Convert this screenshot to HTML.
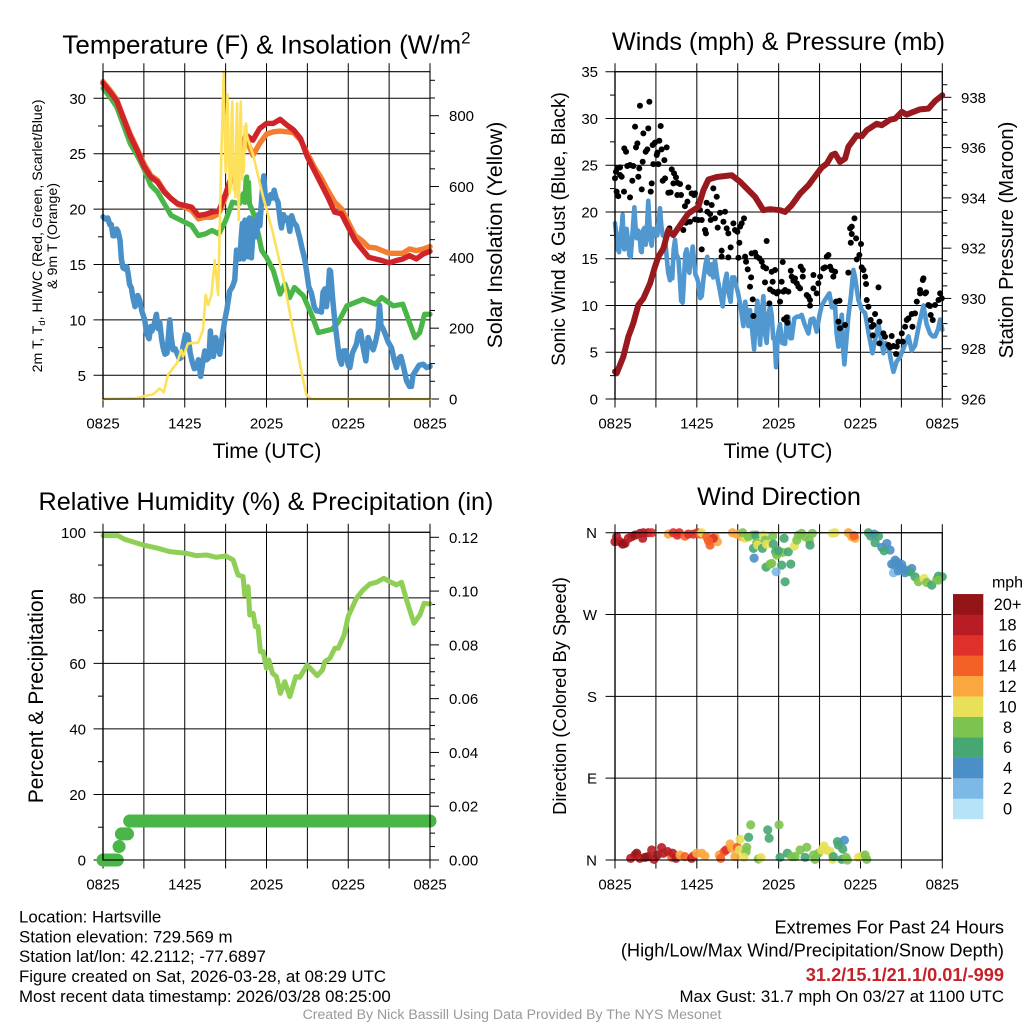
<!DOCTYPE html>
<html lang="en">
<head>
<meta charset="utf-8">
<title>Hartsville Mesonet Meteogram</title>
<style>
html,body{margin:0;padding:0;background:#fff;width:1024px;height:1024px;overflow:hidden}
svg{display:block}
text{font-family:"Liberation Sans",sans-serif;fill:#000}
</style>
</head>
<body>
<svg id="chart" xmlns="http://www.w3.org/2000/svg" width="1024" height="1024" viewBox="0 0 1024 1024">
<rect width="1024" height="1024" fill="#fff"/>
<text x="266.5" y="53.5" font-size="26" text-anchor="middle">Temperature (F) &amp; Insolation (W/m<tspan font-size="17" dy="-10">2</tspan></text>
<text x="778.5" y="50" font-size="25.2" text-anchor="middle">Winds (mph) &amp; Pressure (mb)</text>
<text x="266" y="510" font-size="25.2" text-anchor="middle">Relative Humidity (%) &amp; Precipitation (in)</text>
<text x="779" y="505" font-size="25.2" text-anchor="middle">Wind Direction</text>
<text x="267" y="458" font-size="21" text-anchor="middle">Time (UTC)</text>
<text x="778" y="458" font-size="21" text-anchor="middle">Time (UTC)</text>
<text transform="translate(42 236) rotate(-90)" font-size="14.2" text-anchor="middle">2m T, T<tspan font-size="9.5" dy="3">d</tspan><tspan dy="-3">, HI/WC (Red, Green, Scarlet/Blue)</tspan></text>
<text transform="translate(57 236) rotate(-90)" font-size="14.2" text-anchor="middle">&amp; 9m T (Orange)</text>
<text transform="translate(502 235) rotate(-90)" font-size="21.2" text-anchor="middle">Solar Insolation (Yellow)</text>
<text transform="translate(565 229) rotate(-90)" font-size="19.1" text-anchor="middle">Sonic Wind &amp; Gust (Blue, Black)</text>
<text transform="translate(1013 240) rotate(-90)" font-size="20.2" text-anchor="middle">Station Pressure (Maroon)</text>
<text transform="translate(43 696) rotate(-90)" font-size="21.1" text-anchor="middle">Percent &amp; Precipitation</text>
<text transform="translate(566 696) rotate(-90)" font-size="18.3" text-anchor="middle">Direction (Colored By Speed)</text>
<g id="plots"></g>
<g id="legend">
<text x="1007.5" y="587.5" font-size="16" text-anchor="middle">mph</text>
</g>
<g font-size="16.85">
<text x="19" y="922.5">Location: Hartsville</text>
<text x="19" y="942.5">Station elevation: 729.569 m</text>
<text x="19" y="962">Station lat/lon: 42.2112; -77.6897</text>
<text x="19" y="982">Figure created on Sat, 2026-03-28, at 08:29 UTC</text>
<text x="19" y="1002">Most recent data timestamp: 2026/03/28 08:25:00</text>
</g>
<g text-anchor="end">
<text x="1004" y="933.5" font-size="18.2">Extremes For Past 24 Hours</text>
<text x="1004" y="956.5" font-size="18.2">(High/Low/Max Wind/Precipitation/Snow Depth)</text>
<text x="1004" y="981" font-size="18.2" font-weight="bold" style="fill:#c4222b">31.2/15.1/21.1/0.01/-999</text>
<text x="1004" y="1002" font-size="16.85">Max Gust: 31.7 mph On 03/27 at 1100 UTC</text>
</g>
<text x="512" y="1019" font-size="14.1" text-anchor="middle" style="fill:#999">Created By Nick Bassill Using Data Provided By The NYS Mesonet</text>
</svg>
<script>
/* ---------- shared tick data ---------- */
const timeTickHours = [0, 6, 12, 18, 24];
const timeTickLabels = ['0825', '1425', '2025', '0225', '0825'];
const gridHours = [0, 3, 6, 9, 12, 15, 18, 21, 24];

const tempTicks = [5, 10, 15, 20, 25, 30];
const tempMinor = [7.5, 12.5, 17.5, 22.5, 27.5];
const solarTicks = [0, 200, 400, 600, 800];
const solarMinor = [50, 100, 150, 250, 300, 350, 450, 500, 550, 650, 700, 750, 850, 900];
const windTicks = [0, 5, 10, 15, 20, 25, 30, 35];
const windMinor = [2.5, 7.5, 12.5, 17.5, 22.5, 27.5, 32.5];
const pressureTicks = [926, 928, 930, 932, 934, 936, 938];
const pressureMinor = [926.5, 927, 927.5, 928.5, 929, 929.5, 930.5, 931, 931.5, 932.5, 933, 933.5, 934.5, 935, 935.5, 936.5, 937, 937.5, 938.5];
const rhTicks = [0, 20, 40, 60, 80, 100];
const rhMinor = [10, 30, 50, 70, 90];
const precipTicks = [0, 0.02, 0.04, 0.06, 0.08, 0.10, 0.12];
const precipTickLabels = ['0.00', '0.02', '0.04', '0.06', '0.08', '0.10', '0.12'];
const precipMinor = [0.005, 0.01, 0.015, 0.025, 0.03, 0.035, 0.045, 0.05, 0.055, 0.065, 0.07, 0.075, 0.085, 0.09, 0.095, 0.105, 0.11, 0.115];
const dirTicks = [0, 90, 180, 270, 360];
const dirTickLabels = ['N', 'E', 'S', 'W', 'N'];
const dirRightTicks = [90, 180, 270];

/* ---------- temperature panel ---------- */
const halfHours = [0,.5,1,1.5,2,2.5,3,3.5,4,4.5,5,5.5,6,6.5,7,7.5,8,8.5,9,9.5,10,10.5,11,11.5,12,12.5,13,13.5,14,14.5,15,15.5,16,16.5,17,17.5,18,18.5,19,19.5,20,20.5,21,21.5,22,22.5,23,23.5,24];
const airTemp = [31.36,30.6,29.79,28.19,26.59,25.32,23.87,22.9,22.45,21.54,20.94,20.48,20.33,20.18,19.43,19.52,19.73,19.82,21.39,23.2,24.71,26.68,26.22,27.28,27.73,27.73,28.1,27.58,27.13,26.37,24.71,23.5,22.3,21.09,19.73,19.58,18.37,17.16,16.4,15.65,15.5,15.35,15.14,15.35,15.5,15.8,15.5,15.95,16.19];
const temp9m = [31.51,30.76,29.91,28.28,26.77,25.47,24.11,23.05,22.6,21.63,20.94,20.42,20.18,19.88,19.12,19.27,19.27,19.58,21.09,23.2,25.02,26.37,24.86,25.92,26.77,26.98,27.04,26.98,26.89,26.22,25.02,23.81,22.84,21.69,20.63,20.03,18.82,17.61,17.16,16.56,16.5,16.25,16.01,16.01,16.01,16.4,16.25,16.4,16.62];
const dewHours = [0,.5,1,1.5,2,2.5,3,3.5,4,4.5,5,5.5,6,6.5,7,7.5,8,8.5,9,9.5,10,10.3,10.4,10.5,10.55,10.62,10.68,10.75,11.05,11.4,11.65,12,12.5,13,13.35,13.7,14.05,14.7,15.3,15.8,16.8,17.25,17.9,19.1,20,20.45,21.3,22,22.9,23.25,23.6,24];
const dewPoint = [30.91,30.15,29.24,27.58,25.92,24.86,23.66,22.15,21.54,20.48,19.43,19.12,18.82,18.52,17.61,17.76,18.07,17.76,18.97,20.63,20.48,21.39,20.6,22.6,22.9,20.8,22.4,20.48,19.58,17.76,16.25,15.65,14.44,12.33,13.23,12.02,12.93,12.18,10.51,8.85,9.15,9.76,11.27,11.87,11.42,12.02,11.27,11.42,8.4,8.85,10.51,10.51];
const chillHours = [0,.2,.35,.5,.61,.73,.85,1,1.1,1.25,1.35,1.47,1.6,1.75,1.84,1.95,2.08,2.2,2.35,2.45,2.55,2.69,2.85,3.06,3.2,3.38,3.5,3.6,3.75,3.92,4.05,4.16,4.3,4.41,4.55,4.7,4.8,4.9,5,5.14,5.3,5.43,5.6,5.75,5.9,6.05,6.24,6.4,6.55,6.7,6.85,7,7.17,7.3,7.47,7.6,7.78,7.88,8,8.1,8.27,8.4,8.57,8.75,8.94,9.1,9.3,9.5,9.67,9.8,9.9,10.04,10.15,10.23,10.32,10.42,10.55,10.65,10.75,10.89,11,11.14,11.25,11.4,11.51,11.65,11.8,11.95,12.12,12.3,12.45,12.56,12.7,12.85,13,13.1,13.25,13.4,13.55,13.71,13.85,14,14.2,14.44,14.6,14.8,14.93,15.1,15.3,15.5,15.67,15.85,16.03,16.15,16.28,16.4,16.52,16.62,16.7,16.85,17.01,17.2,17.35,17.5,17.65,17.82,18,18.12,18.3,18.6,18.75,18.9,19.1,19.29,19.46,19.65,19.83,20,20.2,20.3,20.4,20.56,20.75,20.93,21.17,21.35,21.54,21.7,21.86,22.05,22.28,22.5,22.64,22.75,22.89,23.2,23.5,23.75,24];
const windChill = [19.3,19.1,19.2,18.6,18.6,17.6,17.6,18.2,18,17.2,15.5,14.7,14.6,14.8,14.2,13.2,12.9,12,11.2,11.5,12.2,11.8,10.8,10,8.8,8.3,9.4,9,9.6,10.5,9.2,9.8,8.3,7.5,6.9,7,8.5,10,8.5,7.3,7.4,7,6.5,6.6,7.8,8.7,8.6,7,6.2,5.6,5.7,6.4,4.9,6,7.2,6.4,6.6,9,7.5,6.7,8.4,7.8,6.9,8.5,10,11,12.6,13,13.6,16.3,15.5,15.5,17.5,18.7,15.5,19,17,15.7,19.2,15.6,17.8,19,17.5,19.5,18.5,21,23,20.5,20.5,21.3,21,21.7,21,20.6,19,18.3,19.5,19,19.2,18,19.4,18.8,18.5,17.4,16.5,15.5,14.5,13,12.4,11.2,10.8,10.8,10.7,12.5,12.8,11.2,12.5,14.5,14.4,12,9.9,8,6.5,6,7.2,7.2,5.9,5.7,7,7.8,8.8,9,7.5,6.3,8.4,7.8,7.3,8,9.2,11.3,9.5,9.2,8.6,8,7.5,6.5,5.7,6.5,6.7,5.8,4.5,4,4,5,5.3,5.9,6,5.7,5.8];
const solarHours = [0,2.45,3.06,3.67,4.16,4.46,4.77,5.14,5.43,5.75,5.88,6.24,6.98,7.34,7.54,7.71,7.96,8.2,8.45,8.57,8.69,8.86,8.93,9,9.06,9.13,9.2,9.25,9.3,9.38,9.43,9.49,9.55,9.6,9.66,9.72,9.78,9.84,9.9,9.96,10.02,10.07,10.11,10.17,10.23,10.28,10.33,10.4,10.45,10.5,10.58,11.02,11.75,12.48,13.22,13.95,14.69,14.93,15.3,24];
const solarValues = [0,2,8.5,13,30,19,68,87,101,138,120,157,159,195,294,265,294,392,294,487,694,924,760,640,690,860,760,620,580,600,780,840,700,590,640,570,740,835,640,505,640,780,840,700,620,690,640,770,700,778,741,689,571,468,345,195,54,11,0,0];

/* ---------- wind panel ---------- */
const pressureHours = [0,.12,.61,.98,1.34,1.71,2.08,2.57,2.93,3.18,3.55,3.91,4.28,4.77,5.38,6.11,6.48,6.85,7.46,8.56,9.17,10.27,10.88,11.37,12.1,12.47,12.96,13.57,14.18,14.55,15.16,15.53,15.89,16.14,16.5,16.87,17.11,17.73,18.09,18.46,19.19,19.56,20.17,20.54,21.03,21.39,21.88,22.37,22.98,23.47,24];
const pressureValues = [927.09,927.02,927.68,928.48,929.01,929.74,930,930.6,931.26,931.66,931.99,932.72,932.52,932.91,933.38,933.64,934.3,934.73,934.83,934.9,934.64,934.04,933.51,933.55,933.51,933.44,933.71,934.17,934.5,934.77,935.21,935.36,935.7,935.76,935.43,935.56,936.03,936.49,936.45,936.69,936.95,936.89,937.11,937.15,937.42,937.31,937.42,937.52,937.55,937.85,938.08];
const sonicHours = [0,.1,.2,.3,.4,.5,.56,.62,.68,.75,.85,.95,1.05,1.15,1.25,1.32,1.42,1.5,1.59,1.7,1.8,1.9,1.96,2.05,2.15,2.25,2.35,2.44,2.52,2.6,2.69,2.8,2.9,3,3.1,3.2,3.3,3.4,3.5,3.67,3.8,3.9,4.03,4.12,4.2,4.3,4.4,4.5,4.65,4.75,4.85,4.96,5.05,5.15,5.25,5.35,5.45,5.55,5.7,5.8,5.9,6,6.1,6.25,6.36,6.5,6.65,6.77,6.88,7,7.09,7.2,7.33,7.5,7.7,7.9,8.05,8.19,8.3,8.48,8.6,8.75,8.9,9,9.2,9.41,9.55,9.7,9.78,9.9,10.05,10.2,10.3,10.44,10.55,10.64,10.75,10.88,11,11.12,11.25,11.37,11.49,11.6,11.7,11.81,11.95,12.1,12.25,12.47,12.6,12.71,12.85,12.96,13.15,13.33,13.5,13.69,13.9,14.18,14.35,14.55,14.79,15,15.16,15.4,15.72,15.9,16.14,16.25,16.38,16.5,16.63,16.72,16.82,16.95,17.11,17.3,17.48,17.6,17.85,18.1,18.34,18.6,18.88,19.1,19.32,19.5,19.68,19.85,20.05,20.25,20.42,20.65,20.9,21.2,21.52,21.75,22,22.3,22.62,22.85,23.1,23.3,23.47,23.7,23.84,24];
const sonicValues = [18.8,17.5,16,15.7,17.5,18.5,19.7,17,16,17.8,18.2,17,15.4,15.2,17,18.5,20.5,18.5,17.2,18,17.5,15.8,15.7,18,18.3,16.5,18.5,21.2,19,17,16.4,18.2,17.5,18,17.5,19,20.4,18.5,17.5,17.3,15,13.5,12.7,14,12.9,16,17,15.5,15,13,10.5,10.3,12.5,15.5,16,14.2,13.5,15,16.3,14.8,13.3,13,12.5,10.8,11,13,14.5,15.2,13.5,13.3,14.4,13,14.8,13,11.5,9.9,12.5,13.4,11.5,10.4,13,13,12,11.5,10,7.8,10.4,8.8,7.8,9.5,7.5,5.3,8,10.5,8,5.8,9,11,7,6,9,10,9,6.5,6.5,3.4,7,8,6,5.9,8.5,8.8,6.5,6.5,8.6,8.8,8.8,9,8,7,8.5,8.6,7.2,9,10,10.6,11.3,9.8,9.9,7,5.6,7.5,9,5.5,3.7,6,8.8,11,13.8,13,10.6,9.5,9.2,7,4.9,6.5,8,6.5,4.9,6,5.6,4,2.9,4,4.5,5.6,6.7,5.2,5.7,8,10,8,7,6.7,6.7,7.5,8.5,7.4];
const gustHours = [0,.07,.17,.37,.49,.37,.12,.24,.66,.68,.81,.9,1.1,1.1,1.27,1.34,1.47,1.54,1.64,1.71,1.83,1.78,1.96,2.03,2.08,2.25,2.37,2.44,2.52,2.62,2.69,2.76,2.93,2.81,3.06,3.18,3.11,3.25,3.35,3.42,3.62,3.79,3.67,3.5,3.91,4.08,4.16,4.33,4.47,4.28,4.57,4.77,4.84,4.57,5.31,5.13,5.38,5.62,5.87,5.79,6.11,6.23,5.87,6.11,6.72,7.09,6.77,6.97,7.21,7.46,7.33,7.02,7.7,8.07,7.95,7.53,8.19,8.31,8.48,8.68,8.8,8.97,9.17,9.29,9.46,9.12,7.82,7.82,8.31,9.05,6.36,6.36,6.6,6.67,5.01,5.21,5.5,3.99,4.03,9.54,9.61,9.73,9.98,9.9,10.1,10.02,10.27,10.39,10.59,10.76,10.88,11.08,11,11.12,11.49,11.74,11.56,11.37,11.61,11.86,12.3,12.22,12.1,11.98,12.35,12.47,12.71,12.89,12.96,13.08,13.2,13.33,13.45,13.57,13.62,13.77,13.77,14.06,14.18,14.3,14.55,14.55,14.79,14.3,14.91,15.04,15.28,15.4,15.53,15.65,15.77,15.89,16.14,16.01,16.21,16.46,16.38,16.5,16.87,17.11,17.24,17.36,17.56,17.36,17.68,17.29,18.04,17.92,17.73,18.09,18.22,18.34,18.41,19.32,18.46,18.58,19.07,18.75,18.95,19.39,18.83,18.9,19.39,19.68,19.8,20.05,20.17,20.42,20.29,20.61,20.78,21.03,21.27,21.52,21.76,22,21.81,22.13,22.37,22.62,22.57,22.81,22.98,23.15,23.3,23.1,23.47,23.84,23.72,23.96,21.1,20.66,21.39,22.37,22.74,12.59,12.64,10.15,11.32,12.4];
const gustValues = [23.6,24.3,24.66,24.77,23.77,23.95,22.17,21.7,22.17,26.8,26.44,24.91,21.56,25.02,23.34,24.91,29.12,26.91,27.33,23.77,31.36,24.66,22.42,25.37,28.4,26.44,26.69,28.94,31.79,22.17,23.06,27.16,27.41,25.12,26.09,25.12,26.34,27.62,29.19,26.69,25.55,26.91,23.59,23.34,22.06,22.1,24.55,24.13,23.7,23.06,23.13,22.99,21.81,21.81,21.1,20.63,22.63,21.99,21.99,21.81,20.92,20.21,19.21,19.14,20.99,20.74,20.03,19.78,22.52,21.63,19.32,19.14,19.92,20.03,18.96,18.32,18.25,17.71,16.22,18.78,18.07,17.89,18.43,18.78,19.32,16.71,15.86,15.22,15.15,15.11,16,19.14,18.07,17.71,18.07,18.85,18.96,18.25,17.71,15.22,14.68,13.86,13.01,12.01,10.66,15.57,15.65,15.22,15.04,14.68,14.15,13.97,12.47,16.89,13.61,13.79,12.54,11.72,11.48,11.3,14.65,12.54,10.41,11.48,11.48,11.65,11.48,13.72,13.08,12.65,12.9,12.37,12.01,11.83,14.15,13.79,13.08,11.12,10.94,10.58,13.26,11.83,11.3,9.98,12.37,13.08,13.97,14.08,15.22,15.4,14.15,13.79,13.61,13.08,10.41,10.51,8.27,7.56,7.91,13.51,18.25,18.43,19.32,17.64,17.18,16.71,16.57,15.4,14.93,14.08,13.79,13.08,12.3,11.94,10.58,9.87,9.09,8.45,7.91,8.27,7.73,6.81,5.95,7.02,6.66,5.77,5.52,5.67,6.74,4.81,6.13,7.02,7.73,8.62,9.09,9.16,7.73,10.41,11.65,12.9,12.72,11.4,10.05,8.98,8.45,9.94,10.05,11.3,10.58,10.76,6.13,5.6,8.45,11.3,11.3,8.73,8.16,8.87,10.23,8.52];

/* ---------- humidity panel ---------- */
const rhHours = [0,1.1,1.59,2.94,4.04,4.9,6.12,6.85,7.59,8.32,9.01,9.55,9.91,10.28,10.4,10.65,10.77,11.02,11.19,11.38,11.55,11.75,12,12.17,12.44,12.73,13.02,13.34,13.71,14.15,14.44,14.98,15.72,16.11,16.28,16.65,17.01,17.26,17.7,17.99,18.6,19.09,19.58,20.07,20.61,21.05,21.54,21.91,22.28,22.82,23.26,23.57,24];
const rhValues = [98.98,98.98,97.86,96.13,95.12,94.1,93.59,92.88,93.08,92.37,92.78,91.56,86.98,86.47,80.87,83.42,74.77,75.28,71.21,71.21,63.58,63.58,58.49,61.04,56.97,55.95,50.86,54.43,49.85,55.95,55.75,59.51,56.26,57.99,60.53,61.55,64.6,64.6,68.67,74.26,79.86,82.4,84.23,84.74,85.96,84.94,83.93,84.74,79.35,72.23,74.77,78.33,78.13];
const precipStart = [0, 1.18, 1.35, 1.96];
const precipEnd = [1.05, 1.18, 1.8, 24];
const precipValues = [0, 0.005, 0.0097, 0.0145];

/* ---------- direction panel ---------- */
const dirHours = [0,.12,.37,.56,.73,.98,1.22,1.47,1.83,2.03,2.08,2.44,2.69,3.91,4.28,4.57,4.72,5.13,5.38,5.75,6.04,6.23,6.36,6.72,6.97,7.33,7.51,7.21,6.85,8.61,8.92,9.29,9.54,9.36,9.78,10.1,10.34,10.39,10.15,10.46,10.81,10.88,11,11.12,11.56,11.61,11.78,11.86,12.3,12.71,12.4,11.98,10.2,11.08,11.37,11.49,12.22,12.89,11.81,12.47,13.15,13.33,13.45,13.69,13.94,14.25,14.47,14.3,15.94,16.14,17.11,17.36,17.6,17.53,18.58,18.75,19,19.32,19.07,19.56,19.93,20.17,19.73,20.54,20.29,20.42,20.78,21.03,21.27,21.76,21.64,20.45,20.66,20.78,21.03,21.5,21.27,22,22.25,22.67,22.86,23.23,23.59,23.72,24,23.72,1.15,1.47,1.59,1.83,2.2,2.44,2.69,2.86,3.11,3.42,3.55,3.86,4.16,4.23,4.47,4.77,5.13,5.62,5.75,5.99,6.36,6.6,7.65,7.75,8,8.14,8.44,8.56,8.8,8.97,9.17,9.12,9.66,9.61,9.8,9.95,9.46,10.51,10.71,11.2,11.3,12.03,12.1,12.64,12.96,13.2,13.57,14.06,13.94,14.55,14.67,14.91,15.16,15.33,15.53,15.77,15.97,16.01,16.31,16.38,16.7,16.82,16.63,16.94,17.04,17.85,18.09,18.34,18.46];
const dirValues = [350.1,355.6,350.1,347.5,348.2,353.8,355.6,357.4,359.3,353.8,360,360,360,358.5,360,357.4,360,356.3,358.5,358.5,360,358.5,360,355.6,346.4,355.6,350.1,353.8,351.2,360,358.5,355.6,353.8,360,355.6,357.4,357.4,349,342.8,346.4,342.8,357.4,351.9,347.1,356.3,347.5,339,335.4,338.3,339,353.8,340.1,332,322.1,325.4,326.2,324.3,325.4,317,306,345.3,351.9,357.4,359.3,355.6,351.9,359.3,346.4,359.3,360,360,355.6,353.8,356.7,360,356.3,358.5,356.3,349,343.8,348.2,340.9,340.1,329.9,325.4,315.9,324.3,320.7,315.9,320.7,317,325,328,318,325,318,319,311.5,306,309.6,305.2,302.3,308.5,312.2,311.5,307.8,1.8,5.5,7.4,1.8,2.9,3.7,11,.7,5.5,13.6,7.4,9.2,2.9,7.4,1.8,5.5,3.7,1.8,4.4,7.4,7.4,4.4,5.5,1.8,9.2,11,17.6,12.9,3.7,14,22.8,11,14,9.2,25,38.6,2.9,1.1,2.6,33.1,23.9,38.6,2.9,7.4,3.7,3.7,11,14,2.9,5.5,.7,7.4,11,15.4,11,9.2,.7,3.7,20.2,16.5,12.1,21.7,.7,2.9,0,2.9,4.4,5.5,.7];
const dirSpeeds = [18,18,18,20,20,18,18,20,18,18,18,18,16,12,16,16,16,14,16,16,16,14,10,14,14,12,12,16,14,12,12,12,10,8,8,8,6,8,6,10,6,10,8,10,8,6,6,8,8,6,6,6,4,6,8,8,6,6,2,6,10,8,8,8,8,8,8,6,10,10,12,12,12,14,6,6,4,6,6,4,4,4,6,4,4,2,4,4,4,4,6,4,4,4,4,6,4,6,8,10,8,6,8,6,6,8,18,18,20,18,20,20,18,18,20,18,18,18,14,18,18,12,14,18,16,12,12,12,12,14,14,16,12,12,12,14,10,10,8,8,6,8,10,8,10,6,6,8,6,6,8,8,8,8,6,8,8,8,10,10,10,10,10,6,6,6,6,4,6,8,8,10,10,8,8];

/* ---------- legend ---------- */
const legendLabels = ['0', '2', '4', '6', '8', '10', '12', '14', '16', '18', '20+'];
const speedColors = ['#b7e3f9', '#7cb9e6', '#4a90c7', '#46a772', '#7cc34f', '#e8e158', '#faa73f', '#f46127', '#e0302a', '#b81c24', '#931518'];

const SVGNS = 'http://www.w3.org/2000/svg';
const plots = document.getElementById('plots');
const legendGroup = document.getElementById('legend');

function make(tag, attrs, parent) {
  const node = document.createElementNS(SVGNS, tag);
  for (const key in attrs) node.setAttribute(key, attrs[key]);
  (parent || plots).appendChild(node);
  return node;
}
function linearScale(d0, r0, d1, r1) {
  return v => r0 + (v - d0) * (r1 - r0) / (d1 - d0);
}
function seriesPath(hours, values, xs, ys) {
  return hours.map((h, i) => (i ? 'L' : 'M') + xs(h).toFixed(2) + ' ' + ys(values[i]).toFixed(2)).join('');
}
function drawLine(hours, values, xs, ys, color, width, name) {
  const line = make('path', {d: seriesPath(hours, values, xs, ys), fill: 'none', stroke: color, 'stroke-width': width, 'stroke-linejoin': 'round', 'stroke-linecap': 'round'});
  
  
}
function drawVerticalGrid(xs, top, bottom, panel) {
  gridHours.forEach(h => {
    const g = make('line', {x1: xs(h), x2: xs(h), y1: top - 8.5, y2: bottom + 8.5, stroke: '#000', 'stroke-width': 1});
    
    
  });
}
function drawHorizontalGrid(ticks, labels, ys, left, right, labelX, panel) {
  ticks.forEach((v, i) => {
    const g = make('line', {x1: left - 9.5, x2: right, y1: ys(v), y2: ys(v), stroke: '#000', 'stroke-width': 1});
    
    
    const t = make('text', {x: labelX, y: ys(v) + 5.5, 'font-size': 15, 'text-anchor': 'end'});
    t.textContent = labels[i];
    
    
  });
}
function drawTicks(values, ys, x0, x1, panel) {
  values.forEach(v => {
    const t = make('line', {x1: x0, x2: x1, y1: ys(v), y2: ys(v), stroke: '#000', 'stroke-width': 1});
    
    
  });
}
function drawRightLabels(ticks, labels, ys, labelX, panel) {
  ticks.forEach((v, i) => {
    const t = make('text', {x: labelX, y: ys(v) + 5.5, 'font-size': 15});
    t.textContent = labels[i];
    
    
  });
}
function drawTimeLabels(xs, y, panel) {
  timeTickHours.forEach((h, i) => {
    const t = make('text', {x: xs(h), y: y, 'font-size': 15, 'text-anchor': 'middle'});
    t.textContent = timeTickLabels[i];
    
    
  });
}
function drawFrame(left, top, right, bottom, panel) {
  const f = make('rect', {x: left, y: top, width: right - left, height: bottom - top, fill: 'none', stroke: '#000', 'stroke-width': 1.1});
  
  
  const a = make('line', {x1: left, x2: left, y1: top, y2: bottom, stroke: '#000', 'stroke-width': 1.3});
  
  
}

/* temperature & insolation */
{
  const L = 103, R = 430, T = 71.7, B = 399;
  const xs = linearScale(0, L, 24, R);
  const yT = linearScale(5, 375.3, 30, 98.3);
  const yS = linearScale(0, 399, 800, 115.7);
  drawVerticalGrid(xs, T, B, 'temperature');
  drawHorizontalGrid(tempTicks, tempTicks.map(String), yT, L, R, 86, 'temperature');
  drawTicks(tempMinor, yT, L - 5, L, 'temperature-minor');
  drawTicks(solarTicks, yS, R, R + 9, 'solar');
  drawTicks(solarMinor, yS, R, R + 5, 'solar-minor');
  drawRightLabels(solarTicks, solarTicks.map(String), yS, 449, 'solar');
  drawTimeLabels(xs, 428.5, 'temperature');
  drawLine(dewHours, dewPoint, xs, yT, '#4ab648', 5.2, 'dew-point-line');
  drawLine(chillHours, windChill, xs, yT, '#4a90c8', 5.5, 'wind-chill-line');
  drawLine(halfHours, temp9m, xs, yT, '#f47e2f', 5.4, 'temperature-9m-line');
  drawLine(halfHours, airTemp, xs, yT, '#d1232a', 5.4, 'temperature-2m-line');
  drawLine(solarHours, solarValues, xs, yS, '#fde15b', 2.6, 'solar-insolation-line');
  drawFrame(L, T, R, B, 'temperature');
}

/* winds & pressure */
{
  const L = 615, R = 942.3, T = 71.7, B = 399;
  const xs = linearScale(0, L, 24, R);
  const yW = linearScale(0, 399, 35, 71.7);
  const yP = linearScale(926, 399, 938, 97.3);
  drawVerticalGrid(xs, T, B, 'wind');
  drawHorizontalGrid(windTicks, windTicks.map(String), yW, L, R, 598, 'wind');
  drawTicks(windMinor, yW, L - 5, L, 'wind-minor');
  drawTicks(pressureTicks, yP, R, R + 9, 'pressure');
  drawTicks(pressureMinor, yP, R, R + 5, 'pressure-minor');
  drawRightLabels(pressureTicks, pressureTicks.map(String), yP, 961, 'pressure');
  drawTimeLabels(xs, 428.5, 'wind');
  drawLine(sonicHours, sonicValues, xs, yW, '#5298d0', 4.6, 'sonic-wind-line');
  gustHours.forEach((h, i) => {
    const dot = make('circle', {cx: xs(h), cy: yW(gustValues[i]), r: 3, fill: '#000'});
    
    
  });
  drawLine(pressureHours, pressureValues, xs, yP, '#991a1e', 6, 'pressure-line');
  drawFrame(L, T, R, B, 'wind');
}

/* humidity & precipitation */
{
  const L = 103, R = 430, T = 532.3, B = 860;
  const xs = linearScale(0, L, 24, R);
  const yR = linearScale(0, 860, 100, 532.3);
  const yP = linearScale(0, 860, 0.12, 537.3);
  drawVerticalGrid(xs, T, B, 'humidity');
  drawHorizontalGrid(rhTicks, rhTicks.map(String), yR, L, R, 86, 'humidity');
  drawTicks(rhMinor, yR, L - 5, L, 'humidity-minor');
  drawTicks(precipTicks, yP, R, R + 9, 'precipitation');
  drawTicks(precipMinor, yP, R, R + 5, 'precipitation-minor');
  drawRightLabels(precipTicks, precipTickLabels, yP, 449, 'precipitation');
  drawTimeLabels(xs, 889.5, 'humidity');
  drawLine(rhHours, rhValues, xs, yR, '#8fcf55', 5, 'relative-humidity-line');
  precipValues.forEach((v, i) => {
    const run = make('line', {x1: xs(precipStart[i]), x2: xs(precipEnd[i]), y1: yP(v), y2: yP(v), stroke: '#4ab648', 'stroke-width': 13, 'stroke-linecap': 'round'});
    
    
  });
  drawFrame(L, T, R, B, 'humidity');
}

/* wind direction */
{
  const L = 615, R = 942.3, T = 532.7, B = 860;
  const xs = linearScale(0, L, 24, R);
  const yD = linearScale(0, 860, 360, 532.7);
  drawVerticalGrid(xs, T, B, 'direction');
  drawHorizontalGrid(dirTicks, dirTickLabels, yD, L, R, 597, 'direction');
  drawTicks(dirRightTicks, yD, R, R + 9, 'direction-right');
  drawTimeLabels(xs, 889.5, 'direction');
  dirHours.forEach((h, i) => {
    const dot = make('circle', {cx: xs(h), cy: yD(dirValues[i]), r: 4.6, fill: speedColors[Math.min(10, Math.round(dirSpeeds[i] / 2))], 'fill-opacity': 0.9});
    
    
  });
  drawFrame(L, T, R, B, 'direction');
}

/* legend boxes: lowest speed at the bottom */
{
  const boxH = 20.45, boxBottom = 819;
  legendLabels.forEach((label, i) => {
    const y = boxBottom - (i + 1) * boxH;
    const box = make('rect', {x: 953, y: y, width: 30.3, height: boxH + 0.2, fill: speedColors[i]}, legendGroup);
    
    
    const t = make('text', {x: 1007.5, y: y + boxH / 2 + 5.8, 'font-size': 16.4, 'text-anchor': 'middle'}, legendGroup);
    t.textContent = label;
    
    
  });
}
</script>
</body>
</html>
